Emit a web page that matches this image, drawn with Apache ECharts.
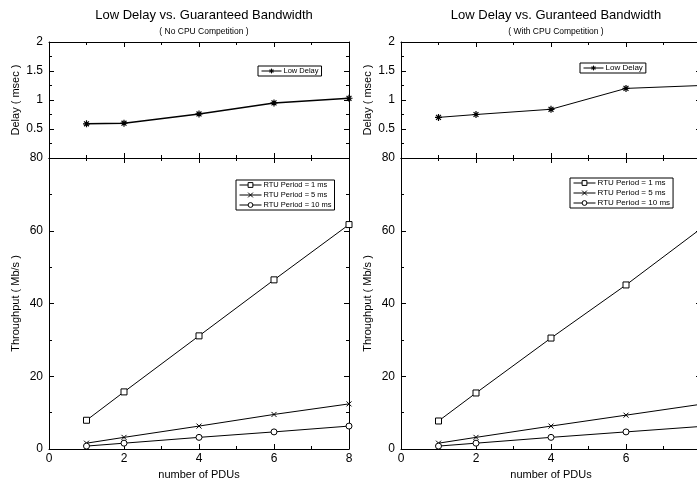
<!DOCTYPE html>
<html>
<head>
<meta charset="utf-8">
<script src="https://cdn.jsdelivr.net/npm/echarts@6.0.0/dist/echarts.min.js"></script>
<style>
html, body { margin: 0; padding: 0; background: #fff; }
#main { width: 697px; height: 483px; }
</style>
</head>
<body>
<div id="main"></div>
<script>
// values
var pduCounts = [1, 2, 4, 6, 8];

var delayNoCpu = [0.59, 0.60, 0.76, 0.95, 1.03];
var delayWithCpu = [0.70, 0.75, 0.84, 1.20, 1.25];

var tp1msNoCpu = [7.9, 15.7, 31.1, 46.5, 61.7];
var tp5msNoCpu = [1.6, 3.2, 6.3, 9.5, 12.4];
var tp10msNoCpu = [0.8, 1.6, 3.2, 4.7, 6.3];

var tp1msWithCpu = [7.7, 15.4, 30.5, 45.1, 60.6];
var tp5msWithCpu = [1.6, 3.2, 6.3, 9.3, 12.3];
var tp10msWithCpu = [0.8, 1.6, 3.2, 4.7, 6.2];

// tick labels
var pduTicks = [0, 2, 4, 6, 8];
var delayTicks = [0, 0.5, 1, 1.5, 2];
var throughputTicks = [0, 20, 40, 60, 80];

var seriesNames = ['RTU Period = 1 ms', 'RTU Period = 5 ms', 'RTU Period = 10 ms'];
var FONT = '"Liberation Sans", Arial, Helvetica, sans-serif';

var starSymbol = 'path://M5,0L5,10M0,5L10,5M1.5,1.5L8.5,8.5M8.5,1.5L1.5,8.5';
var crossSymbol = 'path://M0,0L10,10M10,0L0,10';

var panels = [
    {
        left: 49, title: 'Low Delay vs. Guaranteed Bandwidth', sub: '( No CPU Competition )',
        delay: delayNoCpu, tp: [tp1msNoCpu, tp5msNoCpu, tp10msNoCpu], delayWidth: 1.5,
        delayLegend: [258, 66], tpLegend: [236, 180], legendFont: 7.5
    },
    {
        left: 401, title: 'Low Delay vs. Guranteed Bandwidth', sub: '( With CPU Competition )',
        delay: delayWithCpu, tp: [tp1msWithCpu, tp5msWithCpu, tp10msWithCpu], delayWidth: 1,
        delayLegend: [580, 63], tpLegend: [570, 178], legendFont: 8
    }
];

function pairs(xs, ys) {
    return xs.map(function (x, i) { return [x, ys[i]]; });
}

function valueAxis(extra) {
    var base = {
        type: 'value',
        axisLine: { show: true, onZero: false, lineStyle: { color: '#000', width: 1 } },
        axisTick: { show: true, inside: true, length: 5, lineStyle: { color: '#000', width: 1 } },
        minorTick: { show: true, splitNumber: 2, length: 3, lineStyle: { color: '#000', width: 1 } },
        splitLine: { show: false },
        minorSplitLine: { show: false },
        axisLabel: { show: false }
    };
    for (var k in extra) base[k] = extra[k];
    return base;
}

var tickLabel = { show: true, color: '#000', fontFamily: FONT, fontSize: 12 };
var axisName = { color: '#000', fontFamily: FONT, fontSize: 11 };

var grids = [], xAxes = [], yAxes = [], series = [], legends = [], titles = [];

panels.forEach(function (p, pi) {
    var gDelay = pi * 2, gTp = pi * 2 + 1;
    grids.push({ left: p.left, top: 42, width: 300, height: 116, outerBoundsMode: 'none' });
    grids.push({ left: p.left, top: 158, width: 300, height: 291, outerBoundsMode: 'none' });

    var xr = { min: pduTicks[0], max: pduTicks[pduTicks.length - 1], interval: pduTicks[1] - pduTicks[0] };
    // delay grid: bottom + top
    xAxes.push(valueAxis({ gridIndex: gDelay, position: 'bottom', min: xr.min, max: xr.max, interval: xr.interval }));
    xAxes.push(valueAxis({ gridIndex: gDelay, position: 'top', min: xr.min, max: xr.max, interval: xr.interval }));
    // throughput grid: bottom (labelled) + top
    xAxes.push(valueAxis({
        gridIndex: gTp, position: 'bottom', min: xr.min, max: xr.max, interval: xr.interval,
        axisLabel: Object.assign({ margin: 4 }, tickLabel),
        name: 'number of PDUs', nameLocation: 'middle', nameGap: 20, nameTextStyle: axisName
    }));
    xAxes.push(valueAxis({ gridIndex: gTp, position: 'top', min: xr.min, max: xr.max, interval: xr.interval }));

    var dr = { min: delayTicks[0], max: delayTicks[delayTicks.length - 1], interval: delayTicks[1] - delayTicks[0] };
    var tr = { min: throughputTicks[0], max: throughputTicks[throughputTicks.length - 1], interval: throughputTicks[1] - throughputTicks[0] };
    yAxes.push(valueAxis({
        gridIndex: gDelay, position: 'left', min: dr.min, max: dr.max, interval: dr.interval,
        axisLabel: Object.assign({ margin: 6, formatter: function (v) { return v === 0 ? '' : v; } }, tickLabel),
        name: 'Delay ( msec )', nameLocation: 'middle', nameGap: 28, nameTextStyle: axisName
    }));
    yAxes.push(valueAxis({ gridIndex: gDelay, position: 'right', min: dr.min, max: dr.max, interval: dr.interval }));
    yAxes.push(valueAxis({
        gridIndex: gTp, position: 'left', min: tr.min, max: tr.max, interval: tr.interval,
        axisLabel: Object.assign({ margin: 6 }, tickLabel),
        name: 'Throughput ( Mb/s )', nameLocation: 'middle', nameGap: 28, nameTextStyle: axisName
    }));
    yAxes.push(valueAxis({ gridIndex: gTp, position: 'right', min: tr.min, max: tr.max, interval: tr.interval }));

    series.push({
        name: 'Low Delay', type: 'line', xAxisIndex: gDelay * 2, yAxisIndex: gDelay * 2,
        data: pairs(pduCounts, p.delay),
        symbol: starSymbol, symbolSize: 7, showAllSymbol: true,
        lineStyle: { color: '#000', width: p.delayWidth },
        itemStyle: { color: '#000', borderColor: '#000', borderWidth: 1.2 },
        emphasis: { disabled: true }, animation: false
    });

    var syms = [['rect', 6], [crossSymbol, 5], ['circle', 6]];
    p.tp.forEach(function (vals, si) {
        series.push({
            name: seriesNames[si], type: 'line', xAxisIndex: gTp * 2, yAxisIndex: gTp * 2,
            data: pairs(pduCounts, vals),
            symbol: syms[si][0], symbolSize: syms[si][1], showAllSymbol: true,
            lineStyle: { color: '#000', width: 1 },
            itemStyle: { color: si === 1 ? '#000' : '#fff', borderColor: '#000', borderWidth: 1 },
            emphasis: { disabled: true }, animation: false
        });
    });

    var legendCommon = {
        selectedMode: false, itemHeight: 6, padding: [1, 3],
        borderColor: '#000', borderWidth: 1, backgroundColor: '#fff',
        lineStyle: { width: 1 },
        itemStyle: { borderWidth: 1 },
        textStyle: { color: '#000', fontFamily: FONT, fontSize: p.legendFont, padding: [0, 0, 0, -3] }
    };
    legends.push(Object.assign({
        left: p.delayLegend[0], top: p.delayLegend[1], orient: 'horizontal',
        data: ['Low Delay'], itemWidth: 20, itemGap: 2
    }, legendCommon));
    legends.push(Object.assign({
        left: p.tpLegend[0], top: p.tpLegend[1], orient: 'vertical',
        data: seriesNames.slice(), itemWidth: 22, itemGap: 2
    }, legendCommon));

    titles.push({
        text: p.title, subtext: p.sub, left: p.left + 150, top: 4, textAlign: 'center', itemGap: 5,
        textStyle: { color: '#000', fontFamily: FONT, fontSize: 13, fontWeight: 'normal' },
        subtextStyle: { color: '#000', fontFamily: FONT, fontSize: 8.5 }
    });
});

var chart = echarts.init(document.getElementById('main'), null, { renderer: 'canvas' });
chart.setOption({
    animation: false,
    backgroundColor: '#fff',
    title: titles,
    legend: legends,
    grid: grids,
    xAxis: xAxes,
    yAxis: yAxes,
    tooltip: { show: false },
    series: series
});
</script>
</body>
</html>
